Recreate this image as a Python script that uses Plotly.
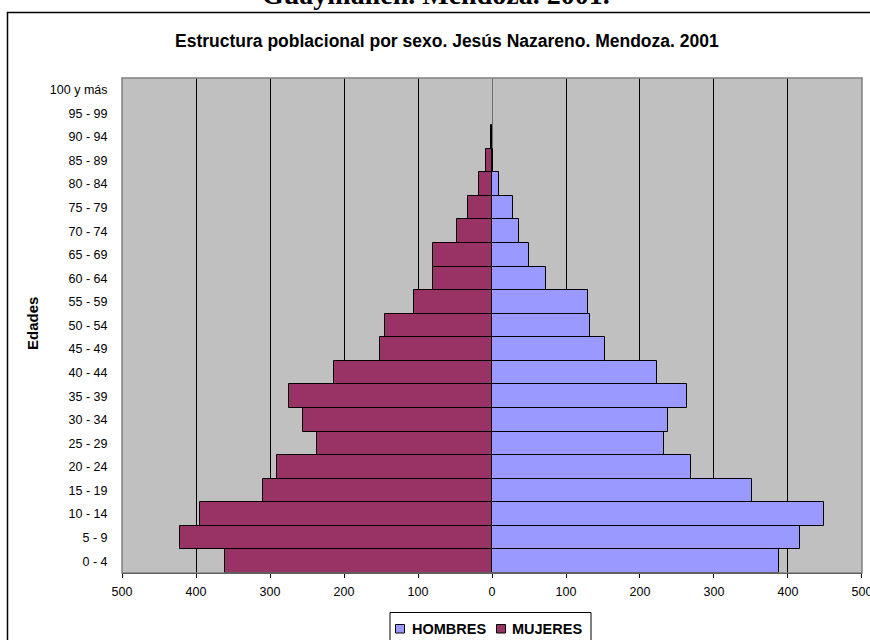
import plotly.graph_objects as go

# Age groups, youngest at the bottom of the pyramid
edades = ["0 - 4", "5 - 9", "10 - 14", "15 - 19", "20 - 24", "25 - 29", "30 - 34",
          "35 - 39", "40 - 44", "45 - 49", "50 - 54", "55 - 59", "60 - 64", "65 - 69",
          "70 - 74", "75 - 79", "80 - 84", "85 - 89", "90 - 94", "95 - 99", "100 y más"]

hombres = [388, 416, 449, 352, 269, 233, 238, 263, 223, 153, 132, 130, 73, 50,
           37, 28, 10, 1, 0, 0, 0]
mujeres = [361, 421, 394, 309, 291, 237, 256, 275, 214, 151, 144, 106, 80, 80,
           47, 32, 18, 8, 2, 0, 0]

x_ticks = [-500, -400, -300, -200, -100, 0, 100, 200, 300, 400, 500]
x_tick_labels = [str(abs(v)) for v in x_ticks]

COLOR_H = "#9999FF"
COLOR_M = "#993366"
FONT = "Liberation Sans, Arial, sans-serif"

W, H = 870, 640
ML, MR, MT, MB = 122, 8, 78, 67
PW, PH = W - ML - MR, H - MT - MB


def px(x):
    """Pixel column -> paper x."""
    return (x - ML) / PW


def py(y):
    """Pixel row (from top) -> paper y."""
    return (H - MB - y) / PH


def outline(values):
    # empty age groups get no bar outline
    return [1 if v else 0 for v in values]


fig = go.Figure()
fig.add_trace(go.Bar(
    y=edades, x=hombres, orientation="h", name="HOMBRES",
    marker=dict(color=COLOR_H, line=dict(color="black", width=outline(hombres))),
    showlegend=False,
))
fig.add_trace(go.Bar(
    y=edades, x=[-v for v in mujeres], orientation="h", name="MUJERES",
    marker=dict(color=COLOR_M, line=dict(color="black", width=outline(mujeres))),
    customdata=mujeres, hovertemplate="%{y}: %{customdata}<extra>MUJERES</extra>",
    showlegend=False,
))

shapes = [
    # outer chart frame
    dict(type="rect", xref="paper", yref="paper",
         x0=px(7.5), x1=px(885), y0=py(660), y1=py(12.5),
         line=dict(color="black", width=1.5), fillcolor="rgba(0,0,0,0)", layer="below"),
    # plot area border
    dict(type="rect", xref="paper", yref="paper",
         x0=0, x1=1, y0=0, y1=1,
         line=dict(color="#808080", width=1.5), fillcolor="rgba(0,0,0,0)", layer="above"),
    # legend frame
    dict(type="rect", xref="paper", yref="paper",
         x0=px(390), x1=px(591), y0=py(660), y1=py(612.5),
         line=dict(color="black", width=1), fillcolor="white"),
    # legend swatches
    dict(type="rect", xref="paper", yref="paper",
         x0=px(395.5), x1=px(404.5), y0=py(633), y1=py(624.5),
         line=dict(color="black", width=1), fillcolor=COLOR_H),
    dict(type="rect", xref="paper", yref="paper",
         x0=px(496.5), x1=px(505.5), y0=py(633), y1=py(624.5),
         line=dict(color="black", width=1), fillcolor=COLOR_M),
]

annotations = [
    dict(text="<b>Guaymallén. Mendoza. 2001.</b>", xref="paper", yref="paper",
         x=px(436), y=py(-6), xanchor="center", yanchor="middle", showarrow=False,
         font=dict(family="Liberation Serif, Times New Roman, serif", size=28, color="black")),
    dict(text="<b>Estructura poblacional por sexo. Jesús Nazareno. Mendoza. 2001</b>",
         xref="paper", yref="paper", x=px(446.5), y=py(41), xanchor="center", yanchor="middle",
         showarrow=False, font=dict(family=FONT, size=17.5, color="black")),
    dict(text="<b>Edades</b>", xref="paper", yref="paper", x=px(32), y=py(324),
         xanchor="center", yanchor="middle", textangle=-90, showarrow=False,
         font=dict(family=FONT, size=15, color="black")),
    dict(text="<b>HOMBRES</b>", xref="paper", yref="paper", x=px(409.5), y=py(629),
         xanchor="left", yanchor="middle", showarrow=False,
         font=dict(family=FONT, size=14.5, color="black")),
    dict(text="<b>MUJERES</b>", xref="paper", yref="paper", x=px(509.5), y=py(629),
         xanchor="left", yanchor="middle", showarrow=False,
         font=dict(family=FONT, size=14.5, color="black")),
]

fig.update_layout(
    width=W, height=H,
    margin=dict(l=ML, r=MR, t=MT, b=MB, pad=0, autoexpand=False),
    paper_bgcolor="white",
    plot_bgcolor="#C0C0C0",
    barmode="relative",
    bargap=0,
    showlegend=False,
    shapes=shapes,
    annotations=annotations,
    font=dict(family=FONT, size=12.5, color="black"),
    xaxis=dict(
        range=[-500.02, 500.02], tickvals=x_ticks, ticktext=x_tick_labels,
        showgrid=True, gridcolor="black", gridwidth=1,
        zeroline=True, zerolinecolor="#707070", zerolinewidth=1,
        showline=True, linecolor="black", linewidth=1,
        ticks="outside", ticklen=4, tickcolor="black", tickwidth=1,
        ticklabelstandoff=3, ticklabeloverflow="allow", automargin=False,
        tickfont=dict(family=FONT, size=12.5, color="black"),
        fixedrange=True,
    ),
    yaxis=dict(
        type="category", categoryorder="array", categoryarray=edades,
        range=[-0.5, len(edades) - 0.5],
        showgrid=False, zeroline=False, showline=False,
        ticks="outside", ticklen=11, tickcolor="rgba(0,0,0,0)",
        tickfont=dict(family=FONT, size=12.5, color="black"),
        automargin=False,
        fixedrange=True,
    ),
)

fig.write_html("out.html")
